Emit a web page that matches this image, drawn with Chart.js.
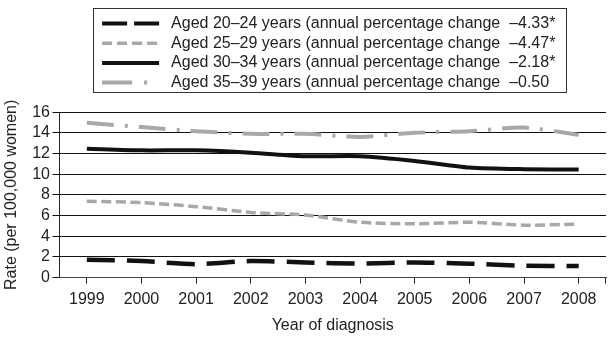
<!DOCTYPE html>
<html>
<head>
<meta charset="utf-8">
<script src="https://cdn.jsdelivr.net/npm/chart.js@4/dist/chart.umd.min.js"></script>
<style>
  html, body { margin: 0; padding: 0; background: #fff; }
  #wrap { width: 615px; height: 342px; }
</style>
</head>
<body>
<div id="wrap"><canvas id="c" width="615" height="342"></canvas></div>
<script>
const years = ['1999','2000','2001','2002','2003','2004','2005','2006','2007','2008'];
const seriesLabels = [
  'Aged 20\u201324 years (annual percentage change  \u20134.33*',
  'Aged 25\u201329 years (annual percentage change  \u20134.47*',
  'Aged 30\u201334 years (annual percentage change  \u20132.18*',
  'Aged 35\u201339 years (annual percentage change  \u20130.50'
];
const aged20_24 = [1.73, 1.60, 1.30, 1.60, 1.47, 1.35, 1.47, 1.35, 1.15, 1.13];
const aged25_29 = [7.38, 7.25, 6.86, 6.30, 6.05, 5.35, 5.20, 5.35, 5.07, 5.17];
const aged30_34 = [12.46, 12.30, 12.30, 12.08, 11.73, 11.73, 11.28, 10.64, 10.48, 10.45];
const aged35_39 = [14.96, 14.55, 14.16, 13.90, 13.90, 13.60, 14.00, 14.16, 14.50, 13.80];
const yTicks = [0, 2, 4, 6, 8, 10, 12, 14, 16];

const TEXT = '#222';
const GRAY = '#a8a8a8';
const FONT = "'Liberation Sans', Arial, sans-serif";

// legend sample styles (legend-only, drawn with each dataset's colour/width)
const legendDash = [[25, 7], [10, 5], [], [30, 12, 3, 100]];

const legendBox = {
  id: 'legendBox',
  beforeInit(chart) {
    const lg = chart.legend;
    const origFit = lg.fit;
    lg.fit = function () {
      origFit.call(this);
      this.height += 11.5;
    };
  },
  afterLayout(chart) {
    const lg = chart.legend;
    const ca = chart.chartArea;
    const pad = lg.options.labels.padding;
    const maxW = Math.max.apply(null, (lg.legendHitBoxes || []).map(h => h.width));
    const start = (ca.left + ca.right) / 2 - maxW / 2 - 4;
    lg.left = start - pad;
    lg.width = lg.right - lg.left;
    (lg.legendHitBoxes || []).forEach(h => { h.left = start; });
  },
  afterDraw(chart) {
    const lg = chart.legend;
    const ctx = chart.ctx;
    const ca = chart.chartArea;
    // small closing tick at the right end of the x axis
    ctx.save();
    ctx.strokeStyle = '#222';
    ctx.lineWidth = 1;
    ctx.beginPath();
    ctx.moveTo(Math.round(ca.right) - 0.5, ca.bottom);
    ctx.lineTo(Math.round(ca.right) - 0.5, ca.bottom + 6);
    ctx.stroke();
    ctx.restore();
    if (!lg || !lg.legendHitBoxes || !lg.legendHitBoxes.length) return;
    let l = Infinity, t = Infinity, r = -Infinity, b = -Infinity;
    lg.legendHitBoxes.forEach((h, i) => {
      l = Math.min(l, h.left); t = Math.min(t, h.top);
      r = Math.max(r, h.left + h.width); b = Math.max(b, h.top + h.height);
      const ds = chart.data.datasets[i];
      const y = h.top + h.height / 2;
      ctx.save();
      ctx.strokeStyle = ds.borderColor;
      ctx.lineWidth = Math.min(ds.borderWidth, 4);
      ctx.setLineDash(legendDash[i]);
      ctx.beginPath();
      ctx.moveTo(h.left, y);
      ctx.lineTo(h.left + 57, y);
      ctx.stroke();
      ctx.restore();
    });
    ctx.save();
    ctx.strokeStyle = '#333';
    ctx.lineWidth = 1;
    const x0 = Math.round(l - 9) + 0.5, y0 = Math.round(t - 7.5) + 0.5;
    const x1 = Math.round(r + 11) + 0.5, y1 = Math.round(b + 1.5) + 0.5;
    ctx.strokeRect(x0, y0, x1 - x0, y1 - y0);
    ctx.restore();
  }
};

new Chart(document.getElementById('c'), {
  type: 'line',
  data: {
    labels: years,
    datasets: [
      { label: seriesLabels[0], data: aged20_24, borderColor: '#111', borderWidth: 4.5, borderDash: [28, 12], tension: 0.25, pointRadius: 0, fill: false },
      { label: seriesLabels[1], data: aged25_29, borderColor: GRAY, borderWidth: 3.5, borderDash: [10, 4.5], tension: 0.25, pointRadius: 0, fill: false },
      { label: seriesLabels[2], data: aged30_34, borderColor: '#111', borderWidth: 4, tension: 0.25, pointRadius: 0, fill: false },
      { label: seriesLabels[3], data: aged35_39, borderColor: GRAY, borderWidth: 4, borderDash: [27, 11, 3, 11], tension: 0.25, pointRadius: 0, fill: false }
    ]
  },
  options: {
    responsive: false,
    animation: false,
    devicePixelRatio: 1,
    layout: { padding: { top: 11.8, right: 9, left: 1.5, bottom: 7 } },
    plugins: {
      tooltip: { enabled: false },
      legend: {
        position: 'top',
        align: 'start',
        labels: {
          boxWidth: 61,
          boxHeight: 2,
          padding: 3.7,
          color: TEXT,
          font: { family: FONT, size: 16 },
          generateLabels(chart) {
            const items = Chart.defaults.plugins.legend.labels.generateLabels(chart);
            return items.map(it => Object.assign(it, {
              fillStyle: 'rgba(0,0,0,0)', strokeStyle: 'rgba(0,0,0,0)', lineWidth: 0, lineDash: []
            }));
          }
        }
      }
    },
    scales: {
      x: {
        type: 'category',
        offset: true,
        grid: { display: true, drawOnChartArea: false, drawTicks: true, tickLength: 6, color: '#222', offset: false },
        border: { display: true, color: '#444', width: 1 },
        ticks: { color: TEXT, font: { family: FONT, size: 16 }, padding: 6.5, maxRotation: 0, autoSkip: false },
        title: { display: true, text: 'Year of diagnosis', color: TEXT, font: { family: FONT, size: 16 }, padding: { top: 0, bottom: 0 } }
      },
      y: {
        min: 0, max: 16,
        afterBuildTicks(axis) { axis.ticks = yTicks.map(v => ({ value: v })); },
        grid: { color: '#111', lineWidth: 1, drawTicks: true, tickLength: 7 },
        border: { display: true, color: '#222', width: 1 },
        ticks: { color: TEXT, font: { family: FONT, size: 16 }, padding: 2.5, autoSkip: false },
        title: { display: true, text: 'Rate (per 100,000 women)', color: TEXT, font: { family: FONT, size: 16 }, padding: { top: 0, bottom: 9 } }
      }
    }
  },
  plugins: [legendBox]
});
</script>
</body>
</html>
